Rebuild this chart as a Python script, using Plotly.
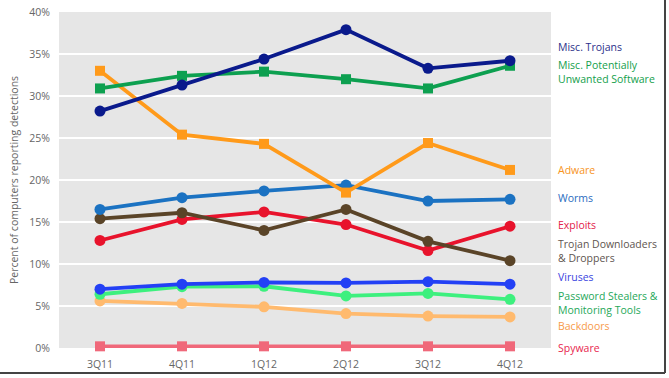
import plotly.graph_objects as go

quarters = ["3Q11", "4Q11", "1Q12", "2Q12", "3Q12", "4Q12"]

misc_trojans = [28.2, 31.3, 34.4, 37.9, 33.3, 34.2]
misc_pus = [30.9, 32.4, 32.9, 32.0, 30.9, 33.6]
adware = [33.0, 25.4, 24.3, 18.5, 24.4, 21.2]
worms = [16.5, 17.9, 18.7, 19.4, 17.5, 17.7]
trojan_downloaders = [15.4, 16.1, 14.0, 16.5, 12.7, 10.4]
exploits = [12.8, 15.3, 16.2, 14.7, 11.6, 14.5]
viruses = [7.0, 7.6, 7.8, 7.75, 7.9, 7.6]
password_stealers = [6.4, 7.3, 7.35, 6.2, 6.5, 5.8]
backdoors = [5.6, 5.3, 4.9, 4.1, 3.8, 3.7]
spyware = [0.2, 0.2, 0.2, 0.2, 0.2, 0.2]

y_ticks = [0, 5, 10, 15, 20, 25, 30, 35, 40]
y_tick_labels = ["0%", "5%", "10%", "15%", "20%", "25%", "30%", "35%", "40%"]

# (name, values, line colour, marker symbol, label text colour, label text, label y)
series = [
    ("Spyware", spyware, "#F0687A", "square", "#E8264E", "Spyware", 0.0),
    ("Backdoors", backdoors, "#FFBA6E", "circle", "#F79A4A", "Backdoors", 2.6),
    ("Password Stealers & Monitoring Tools", password_stealers, "#3DF07E", "circle", "#1FA85A",
     "Password Stealers &<br>Monitoring Tools", 5.3),
    ("Viruses", viruses, "#2340F5", "circle", "#3A44E0", "Viruses", 8.4),
    ("Exploits", exploits, "#E8132C", "circle", "#E3204A", "Exploits", 14.7),
    ("Trojan Downloaders & Droppers", trojan_downloaders, "#5A4428", "circle", "#5E5550",
     "Trojan Downloaders<br>& Droppers", 11.5),
    ("Worms", worms, "#1B72C2", "circle", "#2A6CC0", "Worms", 17.8),
    ("Adware", adware, "#FF9A1A", "square", "#F7941D", "Adware", 21.2),
    ("Misc. Potentially Unwanted Software", misc_pus, "#0DA050", "square", "#14A04C",
     "Misc. Potentially<br>Unwanted Software", 32.9),
    ("Misc. Trojans", misc_trojans, "#0A1A8C", "circle", "#2B2F8A", "Misc. Trojans", 35.85),
]

fig = go.Figure()
for name, vals, color, sym, tcol, label, ly in series:
    fig.add_trace(go.Scatter(
        x=quarters, y=vals, name=name, mode="lines+markers",
        line=dict(color=color, width=3.8),
        marker=dict(symbol=sym, size=11 if sym == "circle" else 10, color=color),
        showlegend=False, cliponaxis=False,
    ))
    fig.add_annotation(
        xref="paper", yref="y", x=1.01, y=ly, text=label, showarrow=False,
        xanchor="left", yanchor="middle", align="left",
        font=dict(family="Open Sans, Noto Sans, sans-serif", size=10.5, color=tcol),
    )

fig.update_layout(
    width=669, height=378,
    margin=dict(l=59, r=118, t=12, b=30),
    paper_bgcolor="white",
    plot_bgcolor="#E6E6E6",
    font=dict(family="Open Sans, Noto Sans, sans-serif", size=10.5, color="#666666"),
    xaxis=dict(
        type="category", range=[-0.5, 5.5], showgrid=False, zeroline=False,
        ticks="", ticklabelstandoff=8, tickfont=dict(size=10.5, color="#666666"),
        automargin=False,
    ),
    yaxis=dict(
        range=[0, 40], tickvals=y_ticks, ticktext=y_tick_labels,
        showgrid=True, gridcolor="white", gridwidth=2, zeroline=False,
        ticks="", ticklabelstandoff=8, automargin=False,
        tickfont=dict(size=10.5, color="#666666"),
        title=dict(text="Percent of computers reporting detections",
                   font=dict(size=10.5, color="#666666"), standoff=8),
    ),
    shapes=[
        dict(type="line", xref="paper", yref="paper", x0=-0.12, x1=1.2317,
             y0=-0.0744, y1=-0.0744, line=dict(color="#444444", width=2)),
        dict(type="line", xref="paper", yref="paper", x0=1.2317, x1=1.2317,
             y0=-0.0744, y1=1.05, line=dict(color="#444444", width=2)),
    ],
)

fig.write_html("out.html", config={"displayModeBar": False},
               post_script="document.body.style.margin='0';")
